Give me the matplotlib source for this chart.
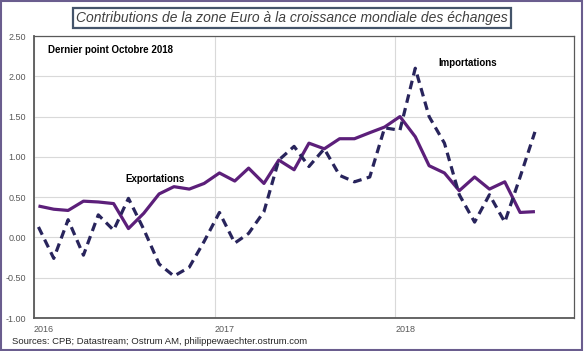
import numpy as np
import pandas as pd
import matplotlib
matplotlib.use("Agg")
import matplotlib.pyplot as plt
from matplotlib.patches import Rectangle

plt.rcParams['font.family'] = ['Liberation Sans', 'DejaVu Sans']

# monthly points, Jan 2016 -> Oct 2018
months = pd.date_range("2016-01-01", "2018-10-01", freq="MS") + pd.Timedelta(days=9)

exportations = [0.39, 0.35, 0.335, 0.45, 0.44, 0.42, 0.11, 0.30, 0.54, 0.63, 0.60, 0.67,
                0.80, 0.70, 0.86, 0.67, 0.96, 0.84, 1.17, 1.10, 1.225, 1.225, 1.30, 1.37,
                1.50, 1.25, 0.89, 0.80, 0.58, 0.75, 0.60, 0.69, 0.31, 0.32]
importations = [0.13, -0.26, 0.22, -0.22, 0.28, 0.09, 0.485, 0.10, -0.33, -0.48, -0.37, -0.05,
                0.31, -0.07, 0.05, 0.32, 0.96, 1.13, 0.88, 1.10, 0.77, 0.69, 0.75, 1.36,
                1.33, 2.10, 1.50, 1.17, 0.53, 0.19, 0.53, 0.19, 0.75, 1.31]

year_ticks = pd.to_datetime(["2016-01-01", "2017-01-01", "2018-01-01"])
year_labels = ["2016", "2017", "2018"]
y_ticks = np.arange(-1.0, 2.51, 0.5)

fig = plt.figure(figsize=(5.84, 3.51), dpi=100)
ax = fig.add_axes([34/584, 33/351, 540/584, 282/351])

ax.plot(months, exportations, color="#5c1f7a", lw=2.3, solid_capstyle="butt")
ax.plot(months, importations, color="#28245c", lw=2.3, dashes=(2.7, 1.7))

ax.set_xlim(pd.Timestamp("2016-01-01"), pd.Timestamp("2018-12-28"))
ax.set_ylim(-1.0, 2.5)
ax.set_yticks(y_ticks)
ax.set_yticklabels([f"{v:.2f}" for v in y_ticks])
ax.set_xticks(year_ticks)
ax.set_xticklabels(year_labels, ha="left")
ax.tick_params(length=0, labelsize=6.5, colors="#595959", pad=6)
ax.tick_params(axis="x", pad=5)
ax.grid(True, color="#d9d9d9", lw=0.8)
ax.set_axisbelow(True)
for s in ax.spines.values():
    s.set_color("#595959")
    s.set_linewidth(0.9)
ax.spines["left"].set_linewidth(1.3)
ax.spines["bottom"].set_linewidth(1.3)

ax.text(0.026, 0.95, "Dernier point Octobre 2018", transform=ax.transAxes,
        fontsize=7, fontweight="bold", va="center", ha="left")
ax.text(0.170, 0.493, "Exportations", transform=ax.transAxes,
        fontsize=7, fontweight="bold", va="center", ha="left")
ax.text(0.748, 0.904, "Importations", transform=ax.transAxes,
        fontsize=7, fontweight="bold", va="center", ha="left")

fig.text(0.5, 1 - 18/351, "Contributions de la zone Euro à la croissance mondiale des échanges",
         ha="center", va="center", fontsize=10, style="italic", color="#404040",
         bbox=dict(boxstyle="square,pad=0.25", facecolor="white", edgecolor="#44546a", lw=1.6))
fig.text(12/584, 9/351, "Sources: CPB; Datastream; Ostrum AM, philippewaechter.ostrum.com",
         ha="left", va="center", fontsize=6.8, color="#262626")

fig.patches.append(Rectangle((0.002, 0.003), 0.995, 0.993, transform=fig.transFigure,
                             fill=False, edgecolor="#6a5d8e", lw=1.5))

fig.savefig("out.png", dpi=100)
